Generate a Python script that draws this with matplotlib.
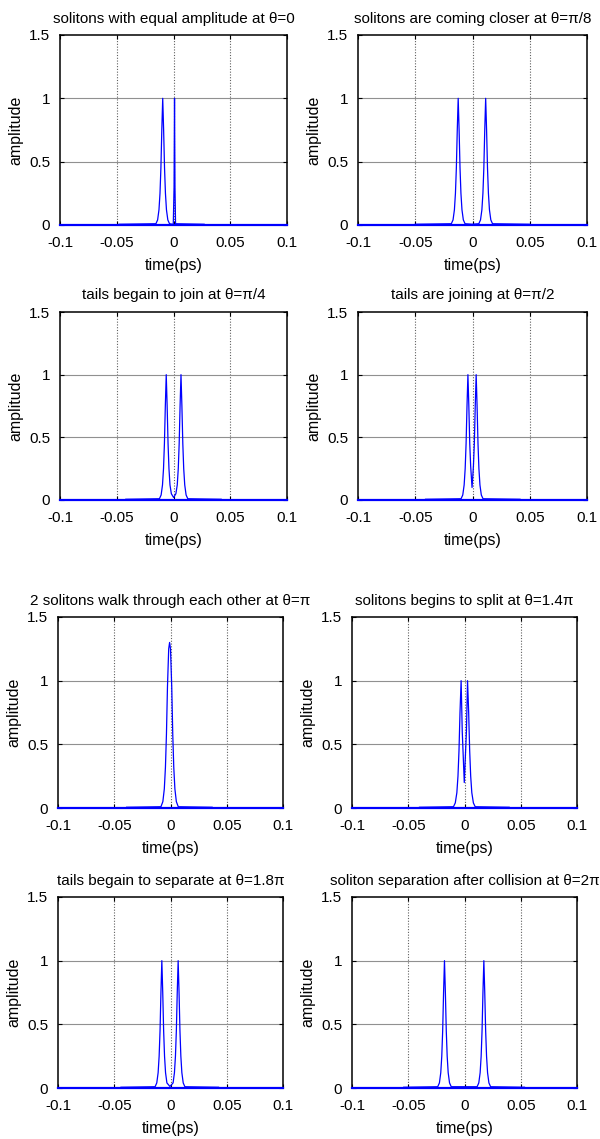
import matplotlib
matplotlib.use('Agg')
import matplotlib.pyplot as plt

plt.rcParams['font.family'] = ['Liberation Sans', 'DejaVu Sans']
plt.rcParams['axes.unicode_minus'] = False

# ===== panel titles =====
titles = ['solitons with equal amplitude at \u03b8=0',
          'solitons are coming closer at \u03b8=\u03c0/8',
          'tails begain to join at \u03b8=\u03c0/4',
          'tails are joining at \u03b8=\u03c0/2',
          '2 solitons walk through each other at \u03b8=\u03c0',
          'solitons begins to split at \u03b8=1.4\u03c0',
          'tails begain to separate at \u03b8=1.8\u03c0',
          'soliton separation after collision at \u03b8=2\u03c0']

# ===== pulse samples (time in ps, amplitude) =====
t1 = [-0.048, -0.0155, -0.014, -0.0128, -0.0119, -0.0111, -0.0103, -0.0095, -0.0087, -0.0079,
      -0.0071, -0.0062, -0.005, -0.0035, -0.0002, 0.0005, 0.0009, 0.0013, 0.0018, 0.027]
a1 = [0.006, 0.01, 0.04, 0.12, 0.25, 0.45, 0.75, 1.0, 0.75, 0.45,
      0.25, 0.12, 0.04, 0.01, 0.005, 0.3, 1.0, 0.3, 0.01, 0.006]

t2 = [-0.05, -0.0185, -0.0170, -0.0158, -0.0149, -0.0141, -0.0133, -0.0125, -0.0117, -0.0109,
      -0.0101, -0.0092, -0.008, -0.0065, -0.0005, 0.0055, 0.0070, 0.0082, 0.0091, 0.0099,
      0.0107, 0.0115, 0.0123, 0.0131, 0.0139, 0.0148, 0.016, 0.0175, 0.05]
a2 = [0.006, 0.01, 0.04, 0.12, 0.25, 0.45, 0.75, 1.0, 0.75, 0.45,
      0.25, 0.12, 0.04, 0.01, 0.006, 0.01, 0.04, 0.12, 0.25, 0.45,
      0.75, 1.0, 0.75, 0.45, 0.25, 0.12, 0.04, 0.01, 0.006]

t3 = [-0.042, -0.0124, -0.0109, -0.0097, -0.0088, -0.0080, -0.0072, -0.0064, -0.0056, -0.0048,
      -0.0040, -0.0031, -0.0019, 0.0001, 0.0021, 0.0033, 0.0042, 0.0050, 0.0058, 0.0066,
      0.0074, 0.0082, 0.0090, 0.0099, 0.0111, 0.0126, 0.042]
a3 = [0.006, 0.01, 0.04, 0.12, 0.25, 0.45, 0.75, 1.0, 0.75, 0.45,
      0.25, 0.12, 0.05, 0.02, 0.05, 0.12, 0.25, 0.45, 0.75, 1.0,
      0.75, 0.45, 0.25, 0.12, 0.04, 0.01, 0.006]

t4 = [-0.041, -0.0100, -0.0085, -0.0073, -0.0064, -0.0056, -0.0048, -0.0040, -0.0032, -0.0024,
      -0.0016, -0.0004, 0.0008, 0.0016, 0.0024, 0.0032, 0.0040, 0.0048, 0.0056, 0.0065,
      0.0077, 0.0092, 0.0415]
a4 = [0.006, 0.01, 0.04, 0.12, 0.25, 0.45, 0.75, 1.0, 0.75, 0.45,
      0.27, 0.10, 0.27, 0.45, 0.75, 1.0, 0.75, 0.45, 0.25, 0.12,
      0.04, 0.01, 0.006]

t5 = [-0.039, -0.0085, -0.0068, -0.0055, -0.0045, -0.0036, -0.0027, -0.0016, -0.0008, 0.0000,
      0.0011, 0.0020, 0.0029, 0.0039, 0.0052, 0.0069, 0.037]
a5 = [0.006, 0.01, 0.05, 0.15, 0.32, 0.58, 0.95, 1.25, 1.30, 1.25,
      0.95, 0.58, 0.32, 0.15, 0.05, 0.01, 0.006]

t6 = [-0.040, -0.0098, -0.0082, -0.0068, -0.0058, -0.0049, -0.0040, -0.0030, -0.0020, -0.0002,
      0.0017, 0.0027, 0.0037, 0.0046, 0.0055, 0.0065, 0.0079, 0.0095, 0.0397]
a6 = [0.006, 0.01, 0.04, 0.12, 0.25, 0.45, 0.75, 1.0, 0.6, 0.2,
      0.6, 1.0, 0.75, 0.45, 0.25, 0.12, 0.04, 0.01, 0.006]

t7 = [-0.044, -0.0137, -0.0122, -0.0110, -0.0101, -0.0093, -0.0085, -0.0077, -0.0069, -0.0061,
      -0.0053, -0.0044, -0.0032, -0.0005, 0.0023, 0.0035, 0.0044, 0.0052, 0.0060, 0.0068,
      0.0076, 0.0084, 0.0092, 0.0101, 0.0113, 0.0128, 0.0427]
a7 = [0.006, 0.01, 0.04, 0.12, 0.25, 0.45, 0.75, 1.0, 0.75, 0.45,
      0.25, 0.12, 0.04, 0.012, 0.04, 0.12, 0.25, 0.45, 0.75, 1.0,
      0.75, 0.45, 0.25, 0.12, 0.04, 0.01, 0.006]

t8 = [-0.054, -0.0238, -0.0223, -0.0211, -0.0202, -0.0194, -0.0186, -0.0178, -0.0170, -0.0162,
      -0.0154, -0.0145, -0.0133, -0.0118, 0.0112, 0.0127, 0.0139, 0.0148, 0.0156, 0.0164,
      0.0172, 0.0180, 0.0188, 0.0196, 0.0205, 0.0217, 0.0232, 0.0533]
a8 = [0.006, 0.01, 0.04, 0.12, 0.25, 0.45, 0.75, 1.0, 0.75, 0.45,
      0.25, 0.12, 0.04, 0.01, 0.01, 0.04, 0.12, 0.25, 0.45, 0.75,
      1.0, 0.75, 0.45, 0.25, 0.12, 0.04, 0.01, 0.006]

times = [t1, t2, t3, t4, t5, t6, t7, t8]
amps = [a1, a2, a3, a4, a5, a6, a7, a8]

# full window baseline
t_full = [-0.1, 0.1]
a_full = [0.0, 0.0]

xticks = [-0.1, -0.05, 0, 0.05, 0.1]
xticklabels = ['-0.1', '-0.05', '0', '0.05', '0.1']
yticks = [0, 0.5, 1, 1.5]
yticklabels = ['0', '0.5', '1', '1.5']

# ===== layout in pixels (left, right, top, bottom) =====
W, H = 600, 1139
boxes = [(60, 287, 35, 225), (358, 587, 35, 225),
         (60, 287, 312, 500), (358, 587, 312, 500),
         (58, 283, 617, 808), (352, 577, 617, 808),
         (58, 283, 897, 1088), (352, 577, 897, 1088)]

fig = plt.figure(figsize=(W / 100, H / 100), dpi=100)

for i in range(8):
    l, r, tp, bt = boxes[i]
    ax = fig.add_axes([l / W, 1 - bt / H, (r - l) / W, (bt - tp) / H])
    # grid
    for xv in xticks[1:-1]:
        ax.axvline(xv, color='#606060', lw=0.8, ls=(0, (1, 1.5)), zorder=1)
    for yv in yticks[1:-1]:
        ax.axhline(yv, color='#909090', lw=0.8, zorder=1)
    ax.plot(t_full, a_full, color='#0000ff', lw=1.6, zorder=3, clip_on=False)
    ax.plot(times[i], amps[i], color='#0000ff', lw=0.9, zorder=4)
    ax.set_xlim(-0.1, 0.1)
    ax.set_ylim(0, 1.5)
    ax.set_xticks(xticks)
    ax.set_xticklabels(xticklabels)
    ax.set_yticks(yticks)
    ax.set_yticklabels(yticklabels)
    ax.tick_params(direction='in', length=3, width=0.8, top=True, right=True,
                   labelsize=11, colors='black')
    ax.tick_params(axis='x', pad=8)
    ax.tick_params(axis='y', pad=7)
    for s in ax.spines.values():
        s.set_linewidth(1.1)
        s.set_color('black')
    ax.set_xlabel('time(ps)', fontsize=11.5, labelpad=6)
    ax.set_ylabel('amplitude', fontsize=11.5, labelpad=4)
    ax.set_title(titles[i], fontsize=11, pad=9)

fig.savefig('out.png', dpi=100, facecolor='white')
